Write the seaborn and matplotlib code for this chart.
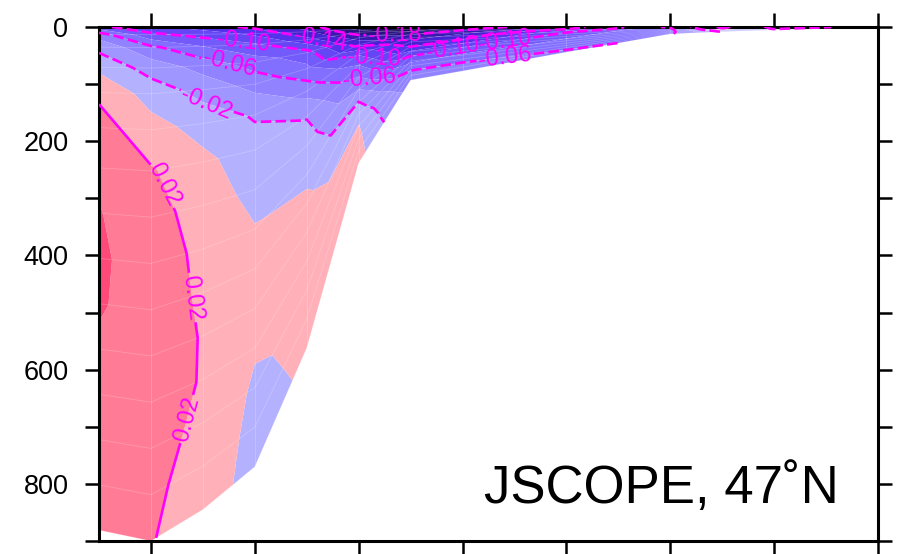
import numpy as np
import matplotlib
matplotlib.use("Agg")
import matplotlib.pyplot as plt
from matplotlib.colors import ListedColormap, BoundaryNorm
import seaborn as sns

# Cross-shelf section: station positions (axis units, offshore -> onshore)
station_x = [0.0, 0.5, 1.0, 1.5, 2.0, 2.5, 3.0, 3.5, 4.5, 5.5, 6.0, 6.5, 7.05]
# water depth at each station (m)
bottom_depth = [881, 900, 845, 770, 562, 238, 93, 77, 44, 12, 8, 5, 2]
# terrain-following levels as fractions of the local depth
sigma = [0, 0.015, 0.04, 0.08, 0.13, 0.2, 0.28, 0.37, 0.46, 0.55, 0.64, 0.73, 0.82, 0.91, 1.0]

# alongshore velocity (m/s) at each station, surface to bottom on the sigma levels
v_st01 = [-0.095, -0.050, -0.026, -0.005, 0.016, 0.028, 0.036, 0.041, 0.043, 0.042, 0.037, 0.034, 0.031, 0.028, 0.026]
v_st02 = [-0.115, -0.095, -0.055, -0.028, -0.008, 0.008, 0.022, 0.028, 0.031, 0.031, 0.029, 0.027, 0.025, 0.023, 0.021]
v_st03 = [-0.130, -0.108, -0.080, -0.048, -0.027, -0.008, 0.005, 0.011, 0.015, 0.017, 0.019, 0.019, 0.017, 0.014, 0.011]
v_st04 = [-0.145, -0.125, -0.097, -0.070, -0.047, -0.022, -0.012, -0.006, 0.001, 0.006, 0.006, 0.002, -0.003, -0.006, -0.008]
v_st05 = [-0.168, -0.156, -0.132, -0.092, -0.075, -0.047, -0.021, -0.010, -0.003, 0.003, 0.006, 0.007, 0.006, 0.005, 0.003]
v_st06 = [-0.215, -0.205, -0.190, -0.168, -0.145, -0.102, -0.080, -0.059, -0.040, -0.020, -0.008, 0.001, 0.004, 0.006, 0.007]
v_st07 = [-0.225, -0.223, -0.218, -0.200, -0.185, -0.168, -0.152, -0.140, -0.118, -0.100, -0.085, -0.070, -0.060, -0.054, -0.048]
v_st08 = [-0.195, -0.192, -0.187, -0.178, -0.165, -0.152, -0.140, -0.120, -0.100, -0.088, -0.076, -0.066, -0.059, -0.054, -0.050]
v_st09 = [-0.160, -0.158, -0.152, -0.142, -0.125, -0.103, -0.092, -0.085, -0.080, -0.076, -0.072, -0.068, -0.064, -0.060, -0.057]
v_st10 = [-0.050, -0.052, -0.055, -0.058, -0.060, -0.062, -0.064, -0.065, -0.066, -0.066, -0.066, -0.066, -0.065, -0.064, -0.063]
v_st11 = [0.028, 0.028, 0.027, 0.026, 0.025, 0.023, 0.020, 0.016, 0.010, 0.004, -0.002, -0.008, -0.012, -0.015, -0.018]
v_st12 = [-0.030, -0.030, -0.029, -0.028, -0.027, -0.026, -0.025, -0.024, -0.023, -0.022, -0.021, -0.020, -0.019, -0.018, -0.017]
v_st13 = [-0.022, -0.022, -0.021, -0.021, -0.020, -0.020, -0.019, -0.019, -0.018, -0.018, -0.017, -0.017, -0.016, -0.016, -0.015]

fill_levels = [-0.30, -0.22, -0.20, -0.18, -0.16, -0.14, -0.12, -0.10, -0.08, -0.06,
               -0.04, -0.02, 0.0, 0.02, 0.04, 0.10]
fill_colors = ["#10064a", "#190a5a", "#281482", "#3719af", "#4623d2", "#5532eb",
               "#6446f5", "#735afa", "#826eff", "#9182ff", "#a096ff", "#b4b2ff",
               "#ffb0b8", "#ff7b96", "#ff4a78"]
line_levels = [-0.18, -0.14, -0.10, -0.06, -0.02, 0.02]

# where the contour labels sit (x, depth)
label_spots = [(1.39, 23), (2.14, 19), (2.85, 14), (2.66, 49), (3.40, 33),
               (3.91, 31), (3.91, 53), (1.27, 52), (2.61, 86), (1.04, 130),
               (0.62, 277), (0.85, 475), (0.88, 688)]

sns.set_theme(style="ticks")
plt.rcParams["font.family"] = ["Liberation Sans", "DejaVu Sans"]

velocity = np.array([v_st01, v_st02, v_st03, v_st04, v_st05, v_st06, v_st07,
                     v_st08, v_st09, v_st10, v_st11, v_st12, v_st13]).T
X = np.tile(np.array(station_x, dtype=float), (len(sigma), 1))
Z = np.outer(np.array(sigma), np.array(bottom_depth, dtype=float))

fig = plt.figure(figsize=(9.02, 5.54), dpi=100)
ax = fig.add_axes([99 / 902, 1 - 541 / 554, 779 / 902, 514 / 554])

cmap = ListedColormap(fill_colors)
norm = BoundaryNorm(fill_levels, cmap.N)
ax.contourf(X, Z, velocity, levels=fill_levels, cmap=cmap, norm=norm,
            antialiased=True, zorder=1)

# faint model grid
for j in range(len(sigma)):
    ax.plot(X[j], Z[j], color="white", alpha=0.22, lw=0.6, zorder=2)
for i in range(len(station_x)):
    ax.plot(X[:, i], Z[:, i], color="white", alpha=0.22, lw=0.6, zorder=2)

styles = ["solid" if lv > 0 else (0, (4, 1.6)) for lv in line_levels]
cs = ax.contour(X, Z, velocity, levels=line_levels, colors="#ff00ff",
                linewidths=1.9, linestyles=styles, zorder=3)

ax.set_xlim(0, 7.5)
ax.set_ylim(900, 0)
ax.clabel(cs, fmt="%.2f", fontsize=17, inline=True, inline_spacing=2,
          manual=label_spots)

ax.set_xticks(np.arange(0.5, 7.6, 1.0))
ax.set_yticks([0, 200, 400, 600, 800])
ax.set_yticks(np.arange(100, 901, 200), minor=True)
ax.tick_params(which="both", direction="out", length=10, width=1.8,
               top=True, right=True, bottom=True, left=True,
               labelbottom=False, labeltop=False, labelright=False,
               color="black")
ax.tick_params(axis="y", labelsize=19.5, pad=12, labelcolor="black")
for sp in ax.spines.values():
    sp.set_linewidth(2.2)
    sp.set_color("black")
    sp.set_visible(True)
ax.set_facecolor("white")

ax.text(0.949, 0.074, "JSCOPE, 47˚N", transform=ax.transAxes, ha="right",
        va="baseline", fontsize=38, color="black")

fig.savefig("out.png", dpi=100)
